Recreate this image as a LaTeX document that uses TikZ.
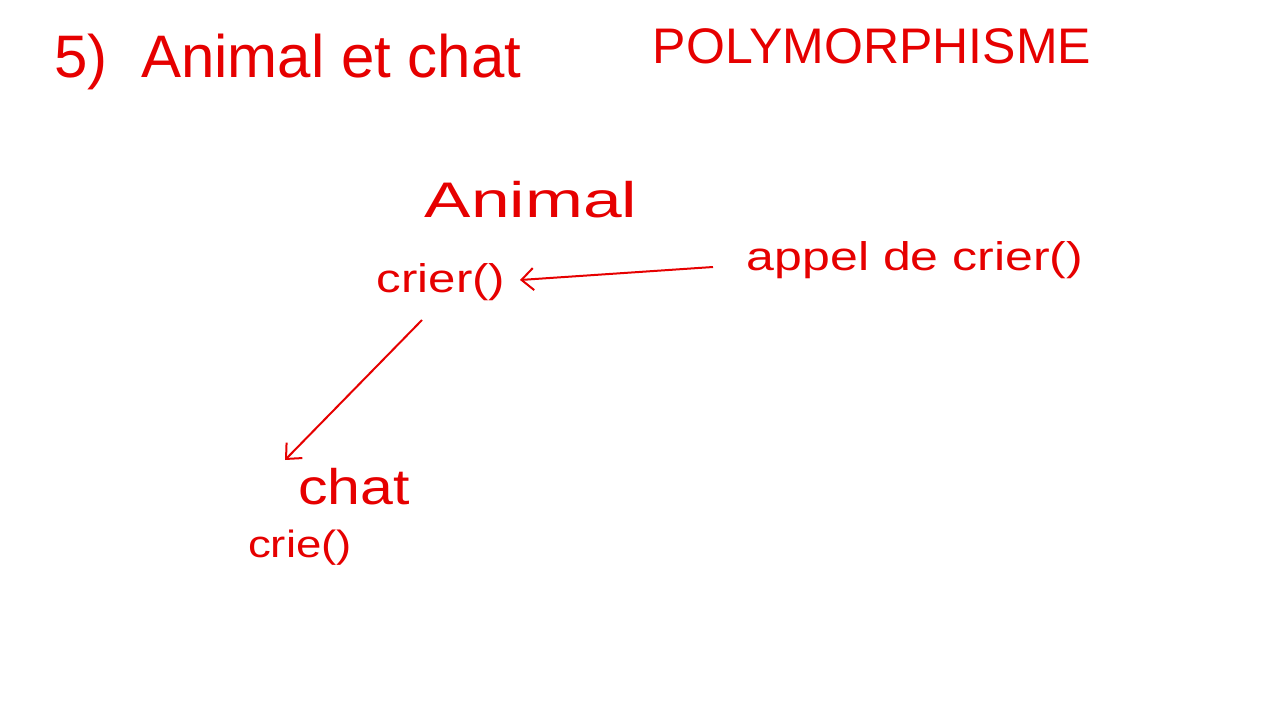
\documentclass[tikz,border=0pt]{standalone}
\usepackage{graphicx}
\usepackage{fontspec}
\setmainfont{Liberation Sans}
\usetikzlibrary{arrows.meta}
\definecolor{ink}{RGB}{230,0,0}
\newcommand{\wide}[2]{\scalebox{#1}[1]{#2}}
\begin{document}
\begin{tikzpicture}[x=1pt,y=-1pt,
  lbl/.style={text=ink, inner sep=0pt, anchor=center},
  conn/.style={draw=ink, line width=2pt, -{Straight Barb[length=12pt,width=22pt,line width=2pt]}}]
\useasboundingbox[fill=white] (0,0) rectangle (1280,720);
\node[lbl, font=\fontsize{60}{68}\selectfont] (title) at (288,62) {5)\ \ Animal et chat};
\node[lbl, font=\fontsize{50}{58}\selectfont] (poly) at (872,46) {POLYMORPHISME};
\node[lbl, font=\fontsize{50}{58}\selectfont] (animal) at (531,200) {\wide{1.39}{Animal}};
\node[lbl, font=\fontsize{40}{48}\selectfont] (crier) at (441,282) {\wide{1.23}{crier()}};
\node[lbl, font=\fontsize{40}{48}\selectfont] (appel) at (915,260) {\wide{1.25}{appel de crier()}};
\node[lbl, font=\fontsize{50}{58}\selectfont] (chat) at (354,487) {\wide{1.18}{chat}};
\node[lbl, font=\fontsize{38}{46}\selectfont] (crie) at (300,548) {\wide{1.2}{crie()}};
\coordinate (a1) at (713,267);
\coordinate (a2) at (520,280);
\coordinate (b1) at (422,320);
\coordinate (b2) at (285,460);
\draw[conn] (a1) -- (a2);
\draw[conn] (b1) -- (b2);
\end{tikzpicture}
\end{document}
